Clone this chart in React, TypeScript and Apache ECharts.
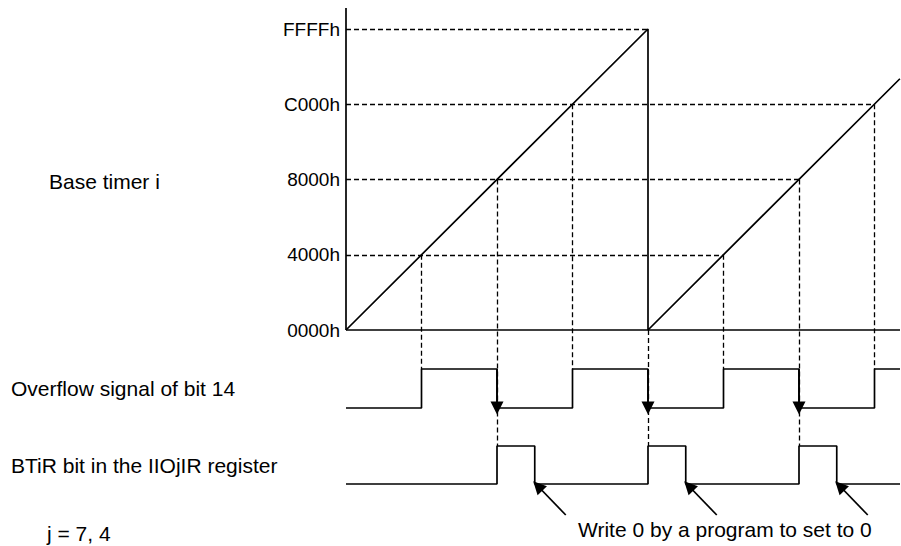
import React, { useEffect, useRef } from "react";
import * as echarts from "echarts";

// ---- data ----
const tickValues = [0, 16384, 32768, 49152, 65535];
const tickLabels = ["0000h", "4000h", "8000h", "C000h", "FFFFh"];
// base timer count vs time (time in count units)
const timerPoints: number[][] = [
  [0, 0],
  [65535, 65535],
  [65536, 0],
  [120200, 54700],
];
// horizontal reference: threshold value and time of the last crossing drawn
const thresholdValues = [16384, 32768, 49152, 65535];
const thresholdEndTimes = [81920, 98304, 114688, 65535];
// crossing points (time, value) from which vertical dashed lines drop
const crossTimes = [16384, 32768, 49152, 65536, 81920, 98304, 114688];
const crossValues = [16384, 32768, 49152, 0, 16384, 32768, 49152];
// overflow signal of bit 14 edges
const overflowRise = [16384, 49152, 81920, 114688];
const overflowFall = [32768, 65536, 98304];
// BTiR bit edges
const btirRise = [32768, 65536, 98304];
const btirFall = [40960, 73728, 106496];

const labelTexts = {
  timer: "Base timer i",
  overflow: "Overflow signal of bit 14",
  btir: "BTiR bit in the IIOjIR register",
  note: "j = 7, 4",
  write: "Write 0 by a program to set to 0",
};

// ---- layout ----
const OX = 346;
const OY = 330;
const PXX = 75.5; // px per 0x4000 in x
const PXY = 75.25; // px per 0x4000 in y
const Q = 16384;
const GRID_TOP = 8;
const GRID_BOTTOM = 497;
const RIGHT = 900;
const xMax = ((RIGHT - OX) / PXX) * Q;
const yMax = ((OY - GRID_TOP) / PXY) * Q;
const yMin = -((GRID_BOTTOM - OY) / PXY) * Q;
const vy = (py: number) => ((OY - py) / PXY) * Q;
const dx = (px: number) => (px / PXX) * Q;
const dyv = (px: number) => (px / PXY) * Q;
const OV_HIGH = vy(369);
const OV_LOW = vy(408);
const BT_HIGH = vy(446);
const BT_LOW = vy(484);
const FONT = "'Liberation Sans', Arial, Helvetica, sans-serif";

function stepSignal(rises: number[], falls: number[], lo: number, hi: number) {
  const edges = [
    ...rises.map((t) => ({ t, up: true })),
    ...falls.map((t) => ({ t, up: false })),
  ].sort((a, b) => a.t - b.t);
  const pts: number[][] = [[0, lo]];
  let cur = lo;
  for (const e of edges) {
    pts.push([e.t, cur]);
    cur = e.up ? hi : lo;
    pts.push([e.t, cur]);
  }
  pts.push([xMax, cur]);
  return pts;
}

export default function App() {
  const ref = useRef<HTMLDivElement>(null);
  useEffect(() => {
    if (!ref.current) return;
    const chart = echarts.init(ref.current, null, { renderer: "svg" });

    const dashed: any[] = [];
    thresholdValues.forEach((v, i) => {
      dashed.push({ coords: [[0, v], [thresholdEndTimes[i], v]] });
    });
    crossTimes.forEach((t, i) => {
      const toBtir = overflowFall.includes(t);
      dashed.push({ coords: [[t, crossValues[i]], [t, toBtir ? BT_HIGH : OV_HIGH]] });
    });

    const arrows = overflowFall.map((t) => ({ coords: [[t, OV_HIGH], [t, OV_LOW]] }));
    const writeArrows = btirFall.map((t) => ({
      coords: [
        [t + dx(31), BT_LOW - dyv(31)],
        [t + dx(3), BT_LOW - dyv(2)],
      ],
    }));

    const solid = { color: "#000", width: 1.7 };

    chart.setOption({
      animation: false,
      grid: {
        left: OX,
        top: GRID_TOP,
        width: RIGHT - OX,
        height: GRID_BOTTOM - GRID_TOP,
        outerBoundsMode: "none",
      },
      xAxis: { type: "value", min: 0, max: xMax, show: false },
      yAxis: {
        type: "value",
        min: yMin,
        max: yMax,
        axisLine: { show: false },
        axisTick: { show: false },
        splitLine: { show: false },
        axisLabel: {
          customValues: tickValues,
          formatter: (v: number) => {
            const i = tickValues.indexOf(v);
            return i >= 0 ? tickLabels[i] : "";
          },
          color: "#000",
          fontSize: 19,
          fontFamily: FONT,
          margin: 6,
        },
      },
      series: [
        {
          type: "lines",
          coordinateSystem: "cartesian2d",
          data: dashed,
          lineStyle: { color: "#000", width: 1.3, type: [5, 3], opacity: 1 },
          symbol: "none",
          z: 1,
          silent: true,
          clip: false,
        },
        {
          type: "line",
          data: [[0, 0], [0, yMax]],
          symbol: "none",
          lineStyle: solid,
          z: 3,
        },
        {
          type: "line",
          data: [[0, 0], [xMax, 0]],
          symbol: "none",
          lineStyle: solid,
          z: 3,
        },
        {
          type: "line",
          data: timerPoints,
          symbol: "none",
          lineStyle: solid,
          z: 4,
        },
        {
          type: "line",
          data: stepSignal(overflowRise, overflowFall, OV_LOW, OV_HIGH),
          symbol: "none",
          lineStyle: solid,
          z: 4,
        },
        {
          type: "line",
          data: stepSignal(btirRise, btirFall, BT_LOW, BT_HIGH),
          symbol: "none",
          lineStyle: solid,
          z: 4,
        },
        {
          type: "lines",
          coordinateSystem: "cartesian2d",
          data: arrows,
          symbol: ["none", "triangle"],
          symbolSize: [9, 13],
          lineStyle: { color: "#000", width: 1.7, opacity: 1 },
          itemStyle: { color: "#000" },
          z: 5,
          silent: true,
          clip: false,
        },
        {
          type: "lines",
          coordinateSystem: "cartesian2d",
          data: writeArrows,
          symbol: ["none", "triangle"],
          symbolSize: [9, 13],
          lineStyle: { color: "#000", width: 1.7, opacity: 1 },
          itemStyle: { color: "#000" },
          z: 5,
          silent: true,
          clip: false,
        },
      ],
      graphic: [
        { type: "text", x: 49, y: 181, style: { text: labelTexts.timer, fontSize: 21, fontFamily: FONT, fill: "#000", verticalAlign: "middle" } },
        { type: "text", x: 11, y: 388, style: { text: labelTexts.overflow, fontSize: 21, fontFamily: FONT, fill: "#000", verticalAlign: "middle" } },
        { type: "text", x: 11, y: 465, style: { text: labelTexts.btir, fontSize: 21, fontFamily: FONT, fill: "#000", verticalAlign: "middle" } },
        { type: "text", x: 47, y: 533, style: { text: labelTexts.note, fontSize: 21, fontFamily: FONT, fill: "#000", verticalAlign: "middle" } },
        { type: "text", x: 578, y: 529, style: { text: labelTexts.write, fontSize: 21, fontFamily: FONT, fill: "#000", verticalAlign: "middle" } },
      ],
    });
    return () => chart.dispose();
  }, []);
  return (
    <div
      ref={ref}
      style={{ position: "fixed", left: 0, top: 0, width: 901, height: 546, background: "#fff" }}
    />
  );
}
